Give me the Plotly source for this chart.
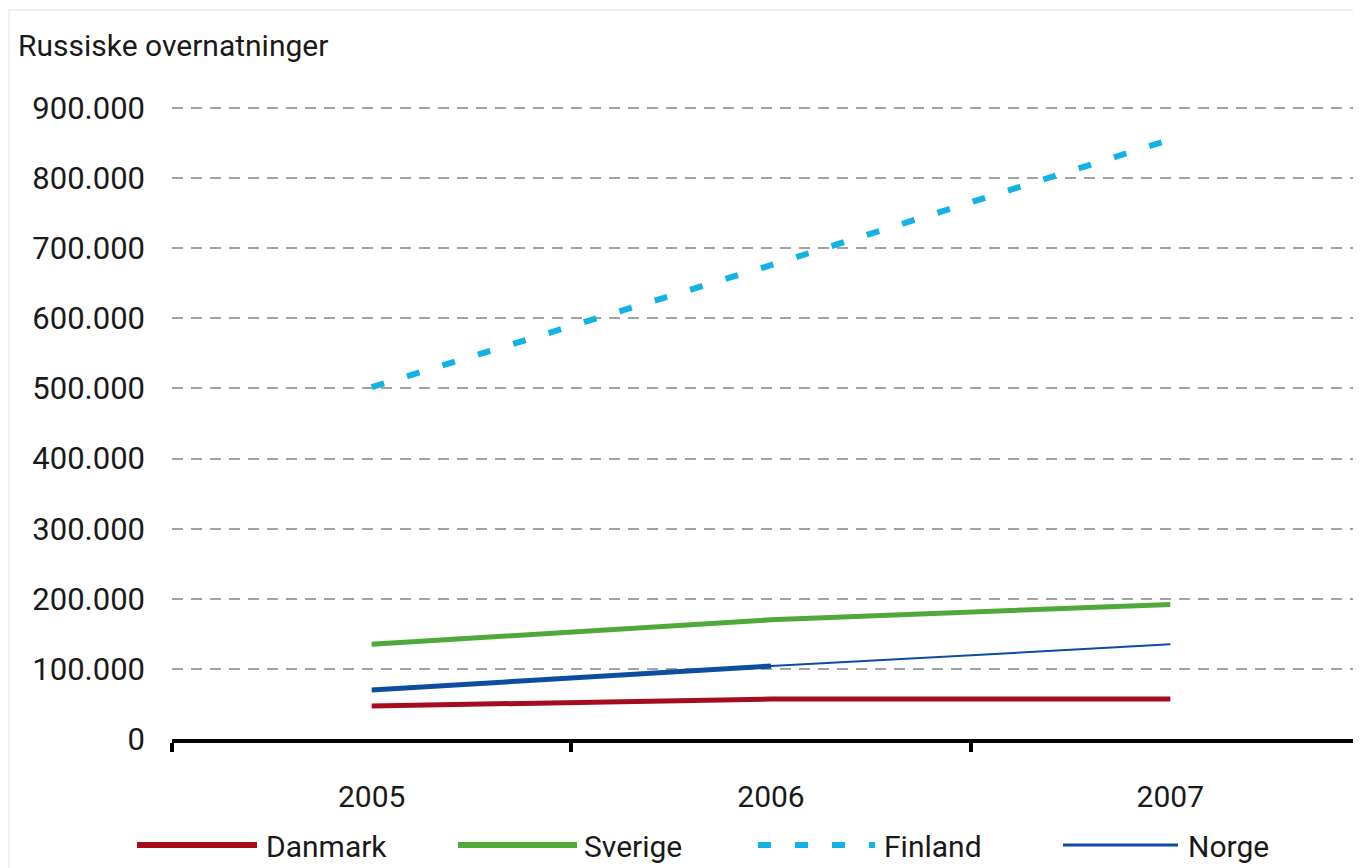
import plotly.graph_objects as go

# chart data
years = ["2005", "2006", "2007"]
danmark = [47000, 57000, 57000]
sverige = [135000, 170000, 192000]
finland = [502000, 676000, 855000]
norge = [70000, 104000, 135000]

colors = {
    "Danmark": "#a50d1f",
    "Sverige": "#4fa83a",
    "Finland": "#12b2e4",
    "Norge": "#0c4da0",
}

FONT = "Roboto"
# the page body has an 8px margin, so the figure is drawn 8px smaller and
# every pixel position below is given in page coordinates
OFF = 8
W, H = 1361 - OFF, 868 - OFF
L, R, T, B = 172 - OFF, 0, 73 - OFF, 129
PW, PH = W - L - R, H - T - B


def px_x(x):
    return (x - OFF - L) / PW


def px_y(y):
    return (H - B - (y - OFF)) / PH


fig = go.Figure()

fig.add_trace(go.Scatter(x=years, y=danmark, mode="lines", name="Danmark",
                         line=dict(color=colors["Danmark"], width=5)))
fig.add_trace(go.Scatter(x=years, y=sverige, mode="lines", name="Sverige",
                         line=dict(color=colors["Sverige"], width=5)))
fig.add_trace(go.Scatter(x=years, y=finland, mode="lines", name="Finland",
                         line=dict(color=colors["Finland"], width=6, dash="13px,24px")))
# Norge: thick first segment, thin second segment (as in the original)
fig.add_trace(go.Scatter(x=years[:2], y=norge[:2], mode="lines", name="Norge",
                         line=dict(color=colors["Norge"], width=5)))
fig.add_trace(go.Scatter(x=years[1:], y=norge[1:], mode="lines", name="Norge",
                         line=dict(color=colors["Norge"], width=2)))

shapes = []
annotations = []

# frame lines of the original picture
shapes.append(dict(type="line", xref="paper", yref="paper",
                   x0=px_x(9), x1=px_x(9), y0=px_y(10), y1=px_y(868),
                   line=dict(color="#e2e2e2", width=1)))
shapes.append(dict(type="line", xref="paper", yref="paper",
                   x0=px_x(9), x1=px_x(1361), y0=px_y(10), y1=px_y(10),
                   line=dict(color="#e2e2e2", width=1)))

# hand-drawn legend (long line samples)
legend_items = [
    ("Danmark", 137, 257, 264, "solid", 6),
    ("Sverige", 458, 577, 582, "solid", 6),
    ("Finland", 758, 875, 882, "13px,24px", 6),
    ("Norge", 1063, 1178, 1186, "solid", 3),
]
leg_y = 845
for name, x0, x1, tx, dash, w in legend_items:
    shapes.append(dict(type="line", xref="paper", yref="paper",
                       x0=px_x(x0), x1=px_x(x1), y0=px_y(leg_y), y1=px_y(leg_y),
                       line=dict(color=colors[name], width=w, dash=dash)))
    annotations.append(dict(text=name, xref="paper", yref="paper",
                            x=px_x(tx), y=px_y(leg_y + 1), xanchor="left", yanchor="middle",
                            showarrow=False, font=dict(family=FONT, size=30, color="#1a1a1a")))

annotations.append(dict(text="Russiske overnatninger", xref="paper", yref="paper",
                        x=px_x(16), y=px_y(45), xanchor="left", yanchor="middle",
                        showarrow=False, font=dict(family=FONT, size=30, color="#1a1a1a")))

fig.update_layout(
    width=W, height=H,
    margin=dict(l=L, r=R, t=T, b=B),
    plot_bgcolor="white", paper_bgcolor="white",
    separators=",.",
    showlegend=False,
    font=dict(family=FONT, size=30, color="#1a1a1a"),
    shapes=shapes,
    annotations=annotations,
)

fig.update_xaxes(
    type="category",
    range=[-0.5, 2.5 - 9 / 400],
    showgrid=False,
    showline=True, linecolor="black", linewidth=4,
    ticks="outside", tickson="boundaries", ticklen=9, tickwidth=4, tickcolor="black",
    ticklabelstandoff=28,
    tickfont=dict(family=FONT, size=30, color="#1a1a1a"),
)

fig.update_yaxes(
    range=[0, 950000],
    tickvals=[0, 100000, 200000, 300000, 400000, 500000, 600000, 700000, 800000, 900000],
    tickformat=",d",
    showgrid=True, gridcolor="#a3a3a3", gridwidth=1.5, griddash="11px,8px",
    zeroline=False, showline=False,
    ticks="", ticklabelstandoff=26,
    tickfont=dict(family=FONT, size=31, color="#1a1a1a"),
)

fig.write_html("out.html")
